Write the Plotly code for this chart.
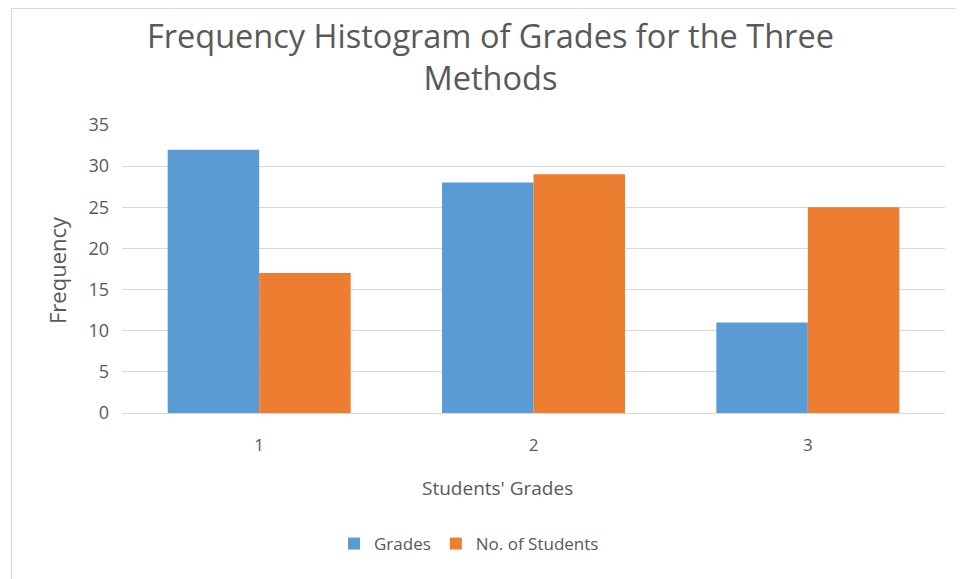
import plotly.graph_objects as go

categories = ["1", "2", "3"]
grades = [32, 28, 11]
students = [17, 29, 25]
y_ticks = [0, 5, 10, 15, 20, 25, 30, 35]

OFF = 8  # browser default body margin
W, H = 964 - OFF, 579 - OFF
# plot area in page pixels: x 122..945, y 125..413
L = 122 - OFF
T = 125 - OFF
R = W - (945 - OFF)
B = H - (413 - OFF)
pw, ph = W - L - R, H - T - B

def px_x(x):
    return (x - OFF - L) / pw

def px_y(y):
    return (H - B - (y - OFF)) / ph

font_fam = "Open Sans, Noto Sans, sans-serif"
txt = "#595959"

fig = go.Figure()
fig.add_trace(go.Bar(x=categories, y=grades, name="Grades", marker=dict(color="#5B9BD5", line=dict(width=0))))
fig.add_trace(go.Bar(x=categories, y=students, name="No. of Students", marker=dict(color="#ED7D31", line=dict(width=0))))

fig.update_layout(
    width=W, height=H,
    margin=dict(l=L, r=R, t=T, b=B, autoexpand=False),
    paper_bgcolor="white", plot_bgcolor="white",
    barmode="group", bargap=0.333, bargroupgap=0,
    font=dict(family=font_fam, color=txt),
    showlegend=True,
    legend=dict(orientation="h", x=px_x(469), xanchor="center", y=px_y(544), yanchor="middle",
                font=dict(size=17, color=txt), traceorder="normal"),
    xaxis=dict(showgrid=False, showline=False, ticks="", tickfont=dict(size=17, color=txt),
               ticklabelstandoff=20, zeroline=False),
    yaxis=dict(range=[0, 35], tickvals=y_ticks, showgrid=True, gridcolor="#d9d9d9", gridwidth=1,
               zeroline=True, zerolinecolor="#d9d9d9", zerolinewidth=1, showline=False,
               tickfont=dict(size=18, color=txt), ticklabelstandoff=12),
)

fig.add_annotation(text="Frequency Histogram of Grades for the Three<br>Methods",
                   xref="paper", yref="paper", x=px_x(490), y=px_y(56), xanchor="center", yanchor="middle",
                   showarrow=False, font=dict(size=32.5, color=txt, family=font_fam))
fig.add_annotation(text="Students' Grades", xref="paper", yref="paper", x=px_x(497), y=px_y(488),
                   xanchor="center", yanchor="middle", showarrow=False, font=dict(size=19, color=txt))
fig.add_annotation(text="Frequency", xref="paper", yref="paper", x=px_x(57), y=px_y(270),
                   xanchor="center", yanchor="middle", showarrow=False, textangle=-90,
                   font=dict(size=22, color=txt))

fig.add_shape(type="line", xref="paper", yref="paper", x0=px_x(11.5), x1=px_x(11.5), y0=px_y(8), y1=px_y(600),
              line=dict(color="#d9d9d9", width=1))
fig.add_shape(type="line", xref="paper", yref="paper", x0=px_x(11.5), x1=px_x(990), y0=px_y(8.5), y1=px_y(8.5),
              line=dict(color="#d9d9d9", width=1))

fig.write_html("out.html")
